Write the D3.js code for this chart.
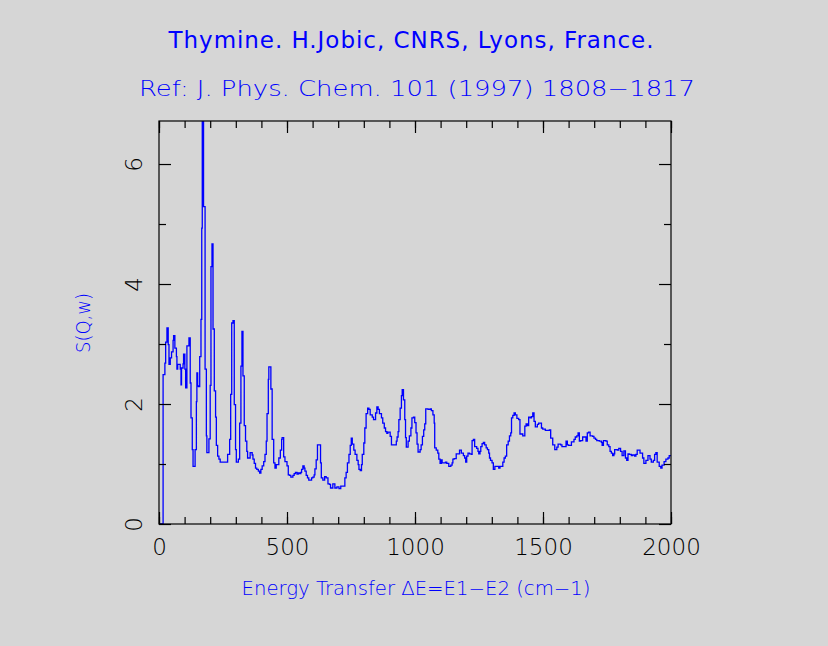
<!DOCTYPE html>
<html>
<head>
<meta charset="utf-8">
<script src="https://cdn.jsdelivr.net/npm/d3@7"></script>
<style>
  body { margin: 0; background: #d6d6d6; }
  svg { display: block; }
  text { font-family: "DejaVu Sans", sans-serif; }
</style>
</head>
<body>
<svg id="chart" width="828" height="646"></svg>
<script>
// Thymine INS spectrum (step points)
const energy = [
  0,16,23,26,31,36,39,44,49,55,57,62,68,70,73,83,86,88,94,96,
  101,104,109,117,122,125,130,133,141,146,148,151,154,159,164,167,169,174,180,185,
  187,195,200,203,207,211,216,221,224,229,234,239,268,276,280,284,289,294,299,302,
  310,315,320,324,328,333,338,343,346,356,364,367,372,377,382,388,393,398,403,409,
  414,419,422,427,429,437,442,448,453,458,468,474,479,481,487,492,500,505,510,515,
  523,528,533,539,544,549,554,557,562,567,570,575,580,585,596,601,606,609,614,619,
  631,634,640,647,653,660,666,670,679,687,695,703,710,726,731,736,742,747,751,755,
  761,766,773,778,781,786,791,794,800,804,809,815,820,825,833,838,846,851,856,861,
  869,874,880,885,890,894,903,908,927,930,934,937,942,947,950,955,960,963,966,973,
  978,984,988,994,999,1004,1008,1012,1020,1024,1029,1034,1038,1042,1051,1059,1064,1070,1075,1077,
  1083,1089,1093,1098,1103,1106,1119,1124,1132,1140,1145,1148,1153,1161,1174,1181,1189,1194,1198,1202,
  1207,1213,1220,1223,1228,1233,1241,1246,1249,1254,1257,1262,1267,1272,1278,1283,1288,
  1291,1295,1301,1306,1312,1327,1332,1343,1348,1353,1358,1364,1369,1374,1377,1382,1387,1392,1398,1405,
  1410,1421,1429,1434,1439,1444,1450,1455,1460,1465,1470,1478,1483,1494,1499,1509,1515,1525,1530,1538,
  1546,1554,1559,1569,1574,1590,1595,1600,1611,1621,1626,1632,1637,1642,1647,1655,1668,1673,1678,1684,
  1694,1699,1705,1710,1720,1728,1731,1736,1746,1751,1757,1762,1767,1772,1777,1780,1790,1796,1803,1809,
  1816,1822,1827,1832,1837,1845,1850,1858,1863,1868,1879,1889,1894,1902,1910,1918,1923,1931,1936,1941,
  1946,1954,1960,1965,1973,1980,1988,1993,2000
];
const sqw = [
  0,2.49,2.68,3.03,3.27,2.99,2.66,2.77,2.87,3.06,3.14,2.93,2.79,2.58,2.66,2.58,2.32,2.60,2.67,2.83,
  2.58,2.27,2.97,3.10,2.35,1.77,1.24,0.96,1.24,2.04,2.52,2.30,2.29,2.79,3.41,4.93,6.72,5.29,2.58,1.47,
  1.19,1.42,2.31,4.29,4.67,3.25,2.22,1.78,1.31,1.13,1.08,1.03,1.16,1.41,2.16,3.35,3.39,1.99,1.24,1.03,
  1.08,1.68,2.63,3.21,2.47,1.64,1.38,1.21,1.10,1.19,1.15,1.08,1.01,0.93,0.91,0.88,0.85,0.91,0.97,1.04,
  1.16,1.38,1.84,2.41,2.62,2.25,1.41,1.02,0.93,0.99,1.10,1.23,1.41,1.44,1.12,1.04,0.97,0.82,0.81,0.78,
  0.81,0.84,0.86,0.83,0.85,0.84,0.86,0.91,0.97,0.93,0.88,0.81,0.77,0.73,0.77,0.78,0.82,0.92,1.07,1.32,
  1.02,0.77,0.73,0.79,0.77,0.67,0.66,0.60,0.67,0.60,0.62,0.59,0.63,0.77,0.86,1.02,1.16,1.31,1.43,1.33,
  1.23,1.16,1.06,0.99,0.91,0.89,0.99,1.16,1.35,1.60,1.84,1.93,1.91,1.82,1.78,1.74,1.85,1.95,1.91,1.84,
  1.77,1.68,1.60,1.54,1.51,1.53,1.46,1.32,1.38,1.45,1.54,1.74,1.93,2.14,2.24,2.07,1.74,1.44,1.28,1.38,
  1.47,1.60,1.77,1.78,1.69,1.52,1.33,1.20,1.24,1.32,1.46,1.57,1.67,1.92,1.91,1.92,1.89,1.82,1.68,1.27,
  1.23,1.18,1.08,1.01,1.07,1.02,1.03,1.01,0.96,0.98,1.02,1.08,1.09,1.17,1.23,1.18,1.14,1.10,1.03,1.13,
  1.18,1.17,1.16,1.39,1.41,1.29,1.26,1.21,1.17,1.21,1.29,1.34,1.36,1.32,1.27,1.24,1.18,
  1.10,1.06,1.02,0.91,0.96,0.93,0.96,1.03,1.10,1.13,1.32,1.38,1.47,1.52,1.77,1.81,1.85,1.82,1.76,1.74,
  1.50,1.47,1.63,1.67,1.64,1.78,1.77,1.79,1.85,1.71,1.62,1.66,1.68,1.60,1.58,1.56,1.56,1.57,1.43,1.32,
  1.24,1.28,1.33,1.32,1.29,1.38,1.32,1.31,1.37,1.41,1.45,1.47,1.52,1.38,1.39,1.45,1.38,1.52,1.53,1.47,
  1.46,1.43,1.41,1.39,1.38,1.36,1.31,1.39,1.38,1.32,1.29,1.21,1.18,1.14,1.17,1.24,1.23,1.26,1.21,1.14,
  1.22,1.10,1.06,1.17,1.16,1.14,1.15,1.13,1.16,1.23,1.18,1.10,1.01,1.06,1.14,1.08,1.03,1.06,1.16,1.19,
  1.03,0.96,0.93,0.98,1.04,1.08,1.10,1.14,1.14
];

const xMajor = [0, 500, 1000, 1500, 2000];
const xMinor = d3.range(0, 2001, 100);
const yMajor = [0, 2, 4, 6];
const yMinor = [1, 3, 5];

const title = "Thymine. H.Jobic, CNRS, Lyons, France.";
const subtitle = "Ref: J. Phys. Chem. 101 (1997) 1808\u22121817";
const xLabel = "Energy Transfer \u0394E=E1\u2212E2 (cm\u22121)";
const yLabel = "S(Q,w)";

const svg = d3.select("#chart");
const margin = { top: 121, right: 157, bottom: 122, left: 159 };
const width = +svg.attr("width") - margin.left - margin.right;
const height = +svg.attr("height") - margin.top - margin.bottom;

svg.append("rect").attr("width", 828).attr("height", 646).attr("fill", "#d6d6d6");

const chart = svg.append("g")
    .attr("transform", `translate(${margin.left}, ${margin.top})`);

const x = d3.scaleLinear().domain([0, 2000]).range([0, width]);
const y = d3.scaleLinear().domain([0, 6.717]).range([height, 0]);

chart.append("clipPath").attr("id", "clip")
  .append("rect").attr("width", width).attr("height", height);

// data line (histogram steps)
const data = energy.map((e, i) => ({ e, v: sqw[i] }));
const line = d3.line()
    .x(d => x(d.e))
    .y(d => y(d.v))
    .curve(d3.curveStepAfter);

chart.append("path")
    .datum(data)
    .attr("clip-path", "url(#clip)")
    .attr("fill", "none")
    .attr("stroke", "#0000ff")
    .attr("stroke-width", 1.3)
    .attr("d", line);

// axes: ticks point inward on all four sides
function styleAxis(g) {
  g.select(".domain").remove();
  g.selectAll("line").attr("stroke", "#000").attr("stroke-width", 1.2);
}

chart.append("g").attr("transform", `translate(0, ${height})`)
    .call(d3.axisBottom(x).tickValues(xMinor).tickSize(-7).tickFormat(""))
    .call(styleAxis);
const xAxis = chart.append("g").attr("transform", `translate(0, ${height})`)
    .call(d3.axisBottom(x).tickValues(xMajor).tickSize(-12).tickPadding(15).tickFormat(d3.format("d")))
    .call(styleAxis);
chart.append("g")
    .call(d3.axisTop(x).tickValues(xMinor).tickSize(-7).tickFormat(""))
    .call(styleAxis);
chart.append("g")
    .call(d3.axisTop(x).tickValues(xMajor).tickSize(-12).tickFormat(""))
    .call(styleAxis);

chart.append("g")
    .call(d3.axisLeft(y).tickValues(yMinor).tickSize(-7).tickFormat(""))
    .call(styleAxis);
const yAxis = chart.append("g")
    .call(d3.axisLeft(y).tickValues(yMajor).tickSize(-12).tickFormat(d3.format("d")))
    .call(styleAxis);
chart.append("g").attr("transform", `translate(${width}, 0)`)
    .call(d3.axisRight(y).tickValues(yMinor).tickSize(-7).tickFormat(""))
    .call(styleAxis);
chart.append("g").attr("transform", `translate(${width}, 0)`)
    .call(d3.axisRight(y).tickValues(yMajor).tickSize(-12).tickFormat(""))
    .call(styleAxis);

xAxis.selectAll("text")
    .attr("font-size", 23).attr("font-family", "DejaVu Sans").attr("font-weight", 200)
    .attr("fill", "#000");

yAxis.selectAll("text")
    .attr("x", 0).attr("dy", 0)
    .attr("transform", "translate(-17, 0) rotate(-90)")
    .attr("text-anchor", "middle")
    .attr("font-size", 23).attr("font-family", "DejaVu Sans").attr("font-weight", 200)
    .attr("fill", "#000");

// frame
chart.append("rect")
    .attr("width", width).attr("height", height)
    .attr("fill", "none").attr("stroke", "#000").attr("stroke-width", 1.2);

// titles and labels
svg.append("text")
    .attr("x", 411).attr("y", 48)
    .attr("text-anchor", "middle")
    .attr("font-size", 23)
    .attr("textLength", 485).attr("lengthAdjust", "spacing")
    .attr("fill", "#0000ff")
    .text(title);

svg.append("text")
    .attr("x", 417).attr("y", 96)
    .attr("text-anchor", "middle")
    .attr("font-size", 21).attr("font-weight", 200)
    .attr("textLength", 556).attr("lengthAdjust", "spacingAndGlyphs")
    .attr("fill", "#0000ff")
    .text(subtitle);

svg.append("text")
    .attr("x", 416).attr("y", 595)
    .attr("text-anchor", "middle")
    .attr("font-size", 19).attr("font-weight", 200)
    .attr("textLength", 349).attr("lengthAdjust", "spacingAndGlyphs")
    .attr("fill", "#0000ff")
    .text(xLabel);

svg.append("text")
    .attr("transform", "translate(90, 323) rotate(-90)")
    .attr("text-anchor", "middle")
    .attr("font-size", 19).attr("font-weight", 200)
    .attr("textLength", 60).attr("lengthAdjust", "spacingAndGlyphs")
    .attr("fill", "#0000ff")
    .text(yLabel);
</script>
</body>
</html>
